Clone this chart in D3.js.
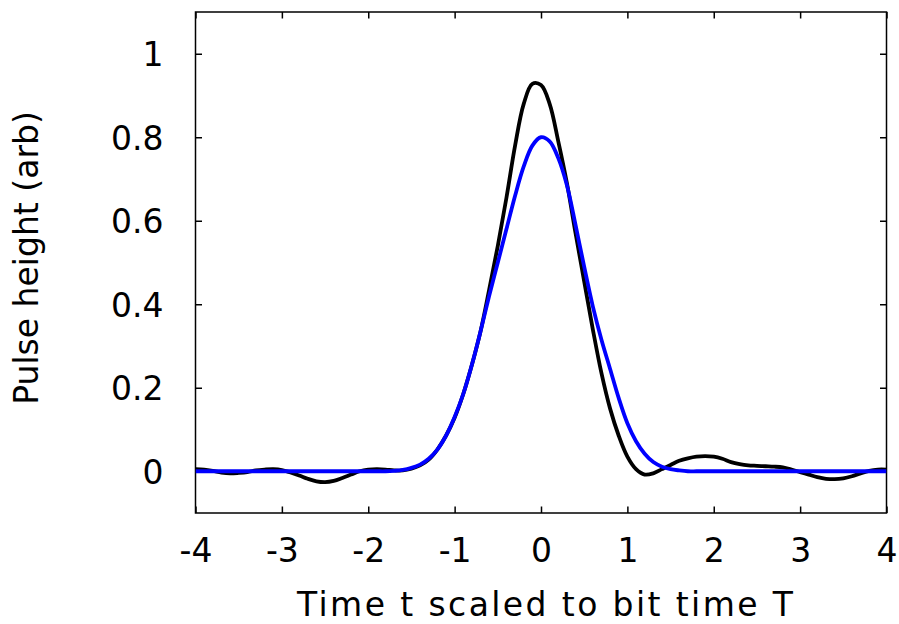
<!DOCTYPE html>
<html>
<head>
<meta charset="utf-8">
<script src="https://cdn.jsdelivr.net/npm/d3@7"></script>
<style>
  html, body { margin: 0; padding: 0; background: #fff; }
  svg text { font-family: "DejaVu Sans", Verdana, sans-serif; fill: #000; }
</style>
</head>
<body>
<svg id="chart" width="899" height="624"></svg>
<script>
// ---- data ----
const tValues = [
  -4.0,-3.9,-3.8,-3.7,-3.6,-3.5,-3.4,-3.3,-3.2,-3.1,
  -3.0,-2.9,-2.8,-2.7,-2.6,-2.5,-2.4,-2.3,-2.2,-2.1,
  -2.0,-1.9,-1.8,-1.7,-1.6,-1.5,-1.4,-1.3,-1.2,-1.1,
  -1.0,-0.9,-0.8,-0.7,-0.6,-0.5,-0.4,-0.3,-0.2,-0.1,
   0.0, 0.1, 0.2, 0.3, 0.4, 0.5, 0.6, 0.7, 0.8, 0.9,
   1.0, 1.1, 1.2, 1.3, 1.4, 1.5, 1.6, 1.7, 1.8, 1.9,
   2.0, 2.1, 2.2, 2.3, 2.4, 2.5, 2.6, 2.7, 2.8, 2.9,
   3.0, 3.1, 3.2, 3.3, 3.4, 3.5, 3.6, 3.7, 3.8, 3.9,
   4.0
];
const blackPulse = [
   0.005, 0.004, 0.001,-0.003,-0.005,-0.004,-0.002, 0.002, 0.004, 0.005,
   0.003,-0.003,-0.010,-0.018,-0.024,-0.026,-0.023,-0.016,-0.008, 0.000,
   0.004, 0.005, 0.004, 0.002, 0.002, 0.006, 0.014, 0.028, 0.052, 0.085,
   0.128, 0.185, 0.255, 0.335, 0.435, 0.540, 0.655, 0.780, 0.880, 0.928,
   0.925, 0.880, 0.790, 0.690, 0.570, 0.455, 0.340, 0.235, 0.150, 0.085,
   0.035, 0.005,-0.008,-0.005, 0.005, 0.015, 0.025, 0.031, 0.035, 0.036,
   0.035, 0.030, 0.022, 0.017, 0.014, 0.013, 0.012, 0.011, 0.009, 0.004,
  -0.002,-0.008,-0.014,-0.018,-0.019,-0.017,-0.012,-0.005, 0.001, 0.004,
   0.004
];
const bluePulse = [
   0.000, 0.000, 0.000, 0.000, 0.000, 0.000, 0.000, 0.000, 0.000, 0.000,
   0.000, 0.000, 0.000, 0.000, 0.000, 0.000, 0.000, 0.000, 0.000, 0.000,
   0.000, 0.000, 0.000, 0.001, 0.003, 0.008, 0.016, 0.030, 0.052, 0.085,
   0.130, 0.185, 0.255, 0.335, 0.420, 0.500, 0.580, 0.660, 0.730, 0.780,
   0.800, 0.790, 0.750, 0.685, 0.590, 0.490, 0.395, 0.315, 0.245, 0.175,
   0.115, 0.072, 0.042, 0.022, 0.011, 0.005, 0.002, 0.000, 0.000, 0.000,
   0.000, 0.000, 0.000, 0.000, 0.000, 0.000, 0.000, 0.000, 0.000, 0.000,
   0.000, 0.000, 0.000, 0.000, 0.000, 0.000, 0.000, 0.000, 0.000, 0.000,
   0.000
];
const xTicks = [-4, -3, -2, -1, 0, 1, 2, 3, 4];
const yTicks = [0, 0.2, 0.4, 0.6, 0.8, 1];
const xTitle = "Time t scaled to bit time T";
const yTitle = "Pulse height (arb)";

// ---- layout ----
const svg = d3.select("#chart");
const L = 195.5, R = 886.5, T = 12, B = 513;
const x = d3.scaleLinear().domain([-4, 4]).range([L, R]);
const y = d3.scaleLinear().domain([-0.1, 1.1]).range([B, T]);
const tickLen = 6.5;
const fontSize = 33;

// axes (ticks inward, mirrored)
const axB = svg.append("g").attr("transform", `translate(0,${B})`)
  .call(d3.axisBottom(x).tickValues(xTicks).tickSize(-tickLen).tickPadding(26)
    .tickFormat(d => String(d)));
const axT = svg.append("g").attr("transform", `translate(0,${T})`)
  .call(d3.axisTop(x).tickValues(xTicks).tickSize(-tickLen).tickFormat(""));
const axL = svg.append("g").attr("transform", `translate(${L},0)`)
  .call(d3.axisLeft(y).tickValues(yTicks).tickSize(-tickLen).tickPadding(32)
    .tickFormat(d => d === 0 ? "0" : d === 1 ? "1" : d3.format(".1f")(d)));
const axR = svg.append("g").attr("transform", `translate(${R},0)`)
  .call(d3.axisRight(y).tickValues(yTicks).tickSize(-tickLen).tickFormat(""));

[axB, axT, axL, axR].forEach(g => {
  g.select(".domain").remove();
  g.selectAll(".tick line").attr("stroke", "#000").attr("stroke-width", 1.5);
  g.selectAll("text").attr("font-size", fontSize).attr("font-family", "DejaVu Sans, sans-serif").attr("fill", "#000");
});
axB.selectAll(".tick text").attr("dy", "0.71em");
axL.selectAll(".tick text").attr("dy", "0.36em");

// frame
svg.append("rect").attr("x", L).attr("y", T).attr("width", R - L).attr("height", B - T)
  .attr("fill", "none").attr("stroke", "#000").attr("stroke-width", 1.5);

// curves
const clipId = "plotclip";
svg.append("clipPath").attr("id", clipId).append("rect")
  .attr("x", L).attr("y", T).attr("width", R - L).attr("height", B - T);

const line = d3.line().x(d => x(d[0])).y(d => y(d[1])).curve(d3.curveCatmullRom.alpha(0.5));
const plot = svg.append("g").attr("clip-path", `url(#${clipId})`);
plot.append("path").datum(tValues.map((t, i) => [t, blackPulse[i]]))
  .attr("d", line).attr("fill", "none").attr("stroke", "#000").attr("stroke-width", 3.8)
  .attr("stroke-linejoin", "round");
plot.append("path").datum(tValues.map((t, i) => [t, bluePulse[i]]))
  .attr("d", line).attr("fill", "none").attr("stroke", "#0000ff").attr("stroke-width", 3.8)
  .attr("stroke-linejoin", "round");

// titles
svg.append("text").attr("x", 297).attr("y", 615.5).attr("text-anchor", "start")
  .attr("font-size", fontSize).attr("textLength", 496).attr("lengthAdjust", "spacing").text(xTitle);
svg.append("text").attr("transform", `translate(37.5,258) rotate(-90)`)
  .attr("text-anchor", "middle").attr("font-size", fontSize).text(yTitle);
</script>
</body>
</html>
